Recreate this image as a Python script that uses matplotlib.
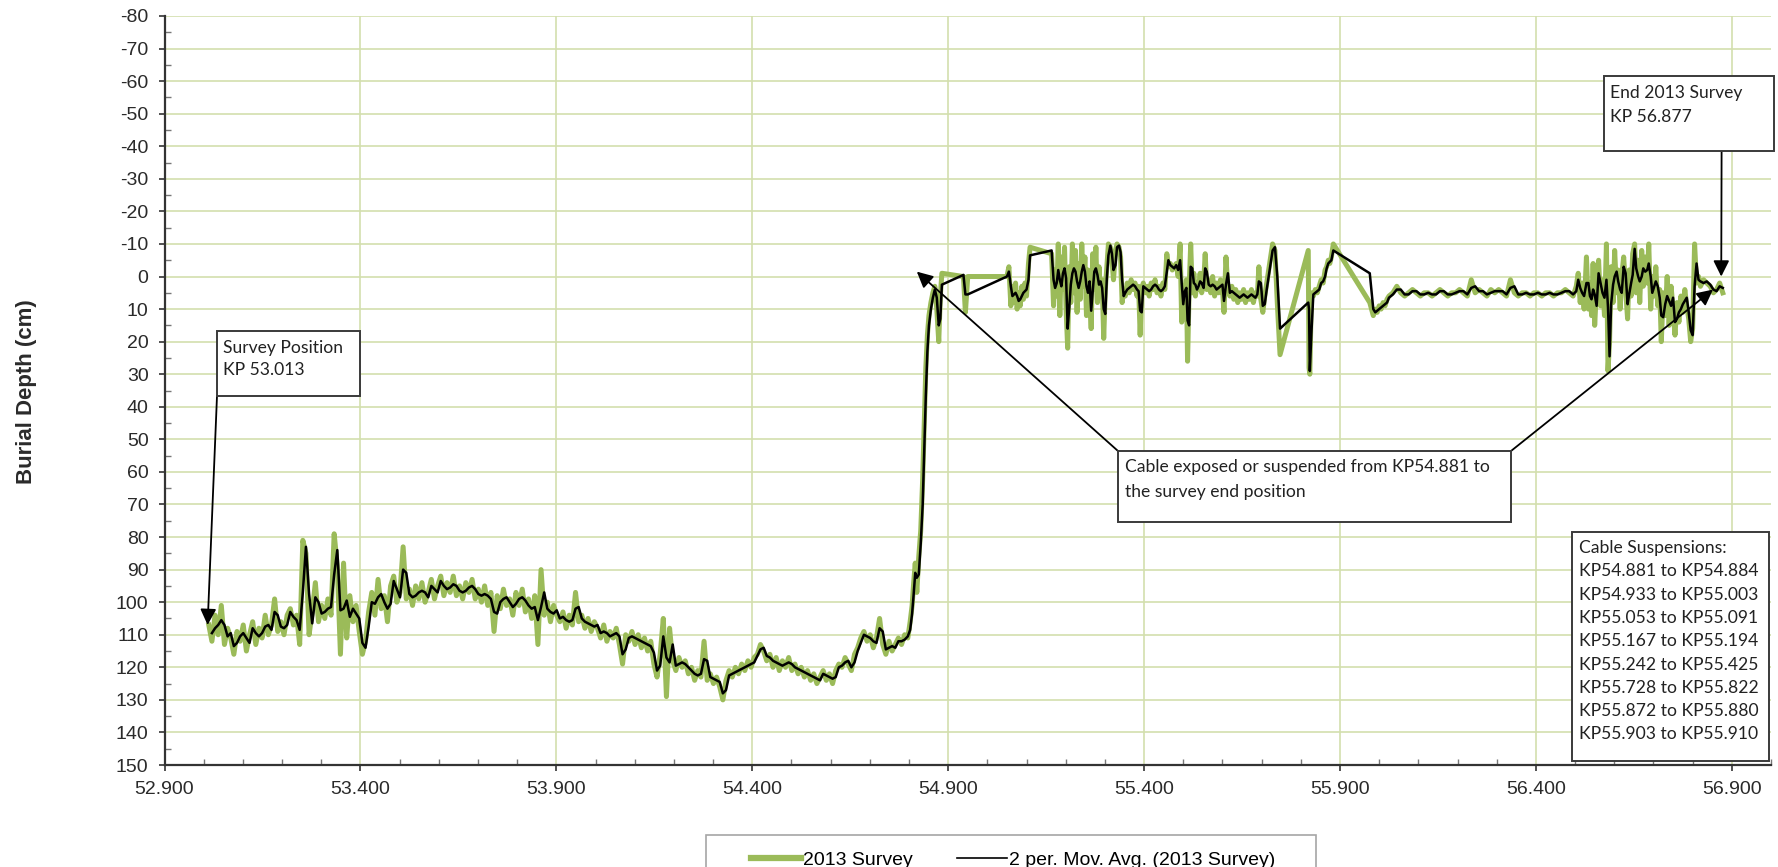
import numpy as np
import pandas as pd
import matplotlib
matplotlib.use('Agg')
import matplotlib.pyplot as plt
from matplotlib.patches import Rectangle
from matplotlib.lines import Line2D
from matplotlib.ticker import MultipleLocator, FixedLocator

plt.rcParams['axes.unicode_minus'] = False

# --- survey data (KP in km, burial depth in cm, negative = above seabed) ---
# evenly spaced readings: (first KP, last KP) and depths
seg1_kp = (53.013, 53.405)
seg1_depth = [107, 112, 104, 110, 101, 113, 108, 111, 116, 109,
              112, 107, 115, 110, 106, 113, 108, 111, 104, 110,
              107, 99, 109, 106, 110, 104, 102, 107, 104, 113,
              81, 85, 110, 103, 94, 106, 101, 105, 99, 104,
              79, 89, 116, 88, 111, 98, 106, 101, 109, 116]
seg2_kp = (53.413, 53.901)
seg2_depth = [112, 103, 97, 104, 93, 102, 98, 106, 95, 92,
              100, 97, 83, 99, 96, 101, 95, 99, 94, 100,
              97, 93, 99, 95, 92, 98, 94, 97, 92, 98,
              95, 99, 94, 97, 93, 99, 96, 100, 95, 101,
              97, 109, 98, 102, 96, 101, 99, 104, 97, 101,
              96, 103, 99, 105, 98, 113, 90, 104, 100, 106,
              101, 104]
seg3_kp = (53.909, 54.405)
seg3_depth = [106, 103, 108, 104, 107, 97, 106, 104, 108, 105,
              109, 106, 108, 111, 107, 112, 109, 111, 108, 113,
              119, 110, 112, 109, 113, 110, 114, 111, 115, 112,
              119, 123, 116, 105, 129, 108, 118, 121, 117, 120,
              118, 122, 120, 124, 121, 123, 112, 124, 122, 125,
              123, 126, 130, 124, 121, 123, 120, 122, 119, 121,
              118, 120, 117]
seg4_kp = (54.413, 54.797)
seg4_depth = [116, 113, 115, 118, 116, 120, 117, 121, 118, 120,
              117, 121, 119, 122, 120, 123, 121, 124, 122, 125,
              123, 121, 124, 122, 125, 121, 119, 120, 117, 119,
              121, 116, 114, 111, 109, 112, 110, 114, 111, 105,
              113, 116, 112, 115, 113, 111, 113, 110, 111]

# cable rising out of the seabed, first suspensions
rise_kp = [54.803, 54.808, 54.812, 54.816, 54.820, 54.825, 54.830, 54.835, 54.839, 54.843,
           54.847, 54.851, 54.856, 54.861, 54.866, 54.871, 54.876, 54.880, 54.884, 54.939,
           54.944, 54.950, 55.050]
rise_depth = [106, 101, 94, 88, 97, 86, 78, 62, 45, 28,
              18, 12, 8, 5, 3, 10, 20, 6, -1, 0,
              11, 0, 0]

# exposed section
exp_kp = [55.055, 55.060, 55.064, 55.068, 55.072, 55.076, 55.080, 55.084, 55.088, 55.092,
          55.096, 55.100, 55.105, 55.109, 55.164, 55.169, 55.173, 55.177, 55.181, 55.185,
          55.189, 55.193, 55.197, 55.201, 55.205, 55.209, 55.213, 55.217, 55.221, 55.225,
          55.229, 55.233, 55.237, 55.241, 55.245, 55.249, 55.253, 55.257, 55.261, 55.265,
          55.269, 55.273, 55.277, 55.281, 55.285, 55.289, 55.293, 55.297, 55.301, 55.305,
          55.309, 55.314, 55.318, 55.322, 55.327, 55.331, 55.336, 55.340, 55.344, 55.348,
          55.352, 55.357, 55.362, 55.367, 55.372, 55.377, 55.382, 55.386, 55.390, 55.394,
          55.398, 55.403, 55.408, 55.413, 55.418, 55.423, 55.428, 55.433, 55.438, 55.443,
          55.448, 55.453, 55.458, 55.462, 55.467, 55.472, 55.477, 55.482, 55.487, 55.492,
          55.496, 55.500, 55.504, 55.508, 55.511, 55.515, 55.519, 55.523, 55.527, 55.531,
          55.535, 55.539, 55.543, 55.547, 55.552, 55.556, 55.560, 55.565, 55.570, 55.575,
          55.580, 55.585, 55.590, 55.595, 55.600, 55.604, 55.609, 55.614, 55.619, 55.624,
          55.629, 55.634, 55.639, 55.644, 55.649, 55.654, 55.659, 55.664, 55.669, 55.674,
          55.679, 55.684, 55.689, 55.693, 55.698, 55.703, 55.708, 55.713, 55.718, 55.723,
          55.728, 55.734, 55.740, 55.747, 55.819, 55.821, 55.823, 55.827, 55.832, 55.837,
          55.842, 55.847, 55.852, 55.857, 55.862, 55.866, 55.870, 55.874, 55.878, 55.883,
          55.976, 55.985, 55.990, 55.995, 56.000, 56.005, 56.010, 56.015, 56.020]
exp_depth = [-3, 9, 3, 8, 2, 10, 5, 9, 3, 7,
             2, 6, -4, -9, -7, 9, -2, 6, -10, 12,
             -6, 4, -9, 10, 22, -3, 8, -10, 5, -8,
             11, -4, 7, -10, 3, -6, 12, -2, 5, 16,
             -7, 4, -9, 8, -3, 6, 1, 19, 4, -3,
             -10, -9, -5, 1, -8, -10, -9, -6, 8, 4,
             6, 2, 5, 1, 4, 2, 6, 3, 18, 4,
             2, 5, 3, 6, 2, 4, 1, 5, 3, 6,
             2, 4, -7, -3, -4, -2, -3, -4, 0, -10,
             14, 3, 6, 1, 26, 4, -10, 5, -1, 6,
             2, 4, -1, 5, 2, -7, 4, 1, 5, 0,
             6, 2, 5, 1, 4, 11, -6, 4, 6, 3,
             7, 4, 8, 5, 7, 4, 8, 5, 7, 4,
             8, 5, 6, -3, 7, 11, 6, 2, -2, -6,
             -10, -8, 8, 24, -8, 28, 30, 5, 6, 4,
             5, 3, 1, 2, -2, -3, -5, -4, -6, -10,
             8, 12, 10, 11, 9, 10, 8, 9, 7]

seg5_kp = (56.025, 56.495)
seg5_depth = [6, 5, 3, 5, 6, 5, 4, 5, 6, 5,
              5, 6, 5, 4, 5, 6, 5, 5, 4, 5,
              6, 1, 5, 4, 5, 6, 4, 5, 4, 5,
              6, 1, 5, 6, 5, 5, 6, 5, 5, 6,
              5, 5, 6, 5, 5, 4, 5, 6]

tail_kp = [56.503, 56.508, 56.513, 56.518, 56.523, 56.529, 56.534, 56.538, 56.542, 56.546,
           56.550, 56.555, 56.560, 56.565, 56.570, 56.575, 56.580, 56.584, 56.588, 56.592,
           56.597, 56.601, 56.606, 56.610, 56.615, 56.619, 56.624, 56.629, 56.634, 56.638,
           56.643, 56.647, 56.652, 56.656, 56.661, 56.665, 56.670, 56.674, 56.679, 56.684,
           56.688, 56.693, 56.697, 56.702, 56.706, 56.711, 56.716, 56.720, 56.725, 56.730,
           56.735, 56.740, 56.745, 56.750, 56.755, 56.760, 56.765, 56.770, 56.775, 56.780,
           56.785, 56.790, 56.795, 56.800, 56.805, 56.810, 56.815, 56.820, 56.828, 56.836,
           56.845, 56.853, 56.861, 56.869, 56.877]
tail_depth = [3, -1, 8, 2, 10, -6, 10, 2, 12, -4,
              15, 3, -5, 9, 1, 12, -10, 29, 20, -3,
              8, -8, 5, -2, 10, 0, -6, 4, 13, -2,
              6, -7, -10, 5, -5, 8, -8, 3, -6, 2,
              -10, 10, 0, 6, -3, 9, 4, 20, 5, 12,
              0, 15, 3, 10, 18, 8, 14, 6, 11, 4,
              9, 13, 20, 16, -10, 2, 0, 3, 1, 2,
              3, 5, 4, 2, 5]

x_ticks = [52.9, 53.4, 53.9, 54.4, 54.9, 55.4, 55.9, 56.4, 56.9]
suspensions = ["KP54.881 to KP54.884", "KP54.933 to KP55.003", "KP55.053 to KP55.091",
               "KP55.167 to KP55.194", "KP55.242 to KP55.425", "KP55.728 to KP55.822",
               "KP55.872 to KP55.880", "KP55.903 to KP55.910"]


def even(span, vals):
    return list(np.linspace(span[0], span[1], len(vals)))


kp = (even(seg1_kp, seg1_depth) + even(seg2_kp, seg2_depth) + even(seg3_kp, seg3_depth)
      + even(seg4_kp, seg4_depth) + rise_kp + exp_kp + even(seg5_kp, seg5_depth) + tail_kp)
depth = (seg1_depth + seg2_depth + seg3_depth + seg4_depth + rise_depth + exp_depth
         + seg5_depth + tail_depth)
survey = pd.Series(depth, index=kp)
mov_avg = survey.rolling(2).mean()

W, H = 1778, 867


def fxy(x, y):
    # pixel position (from top-left) -> figure fraction
    return x / W, 1 - y / H


GREEN = '#9bbb59'
GRID = '#d3dfae'
AX = '#333333'
tick_font = 'Liberation Sans'
note_font = 'Lato'

fig = plt.figure(figsize=(W / 100, H / 100), dpi=100)
left, right, bottom, top = 164.5, 1771, 765, 16
ax = fig.add_axes([left / W, 1 - bottom / H, (right - left) / W, (bottom - top) / H])

ax.plot(survey.index, survey.values, color=GREEN, lw=3.6, solid_joinstyle='round', zorder=3)
ax.plot(mov_avg.index, mov_avg.values, color='black', lw=1.8, zorder=4)

ax.set_xlim(52.9, 57.0)
ax.set_ylim(150, -80)
ax.xaxis.set_major_locator(FixedLocator(x_ticks))
ax.set_xticklabels(['%.3f' % t for t in x_ticks])
ax.xaxis.set_minor_locator(MultipleLocator(0.1))
ax.set_yticks(range(-80, 151, 10))
ax.yaxis.set_minor_locator(MultipleLocator(5))
ax.grid(True, which='major', color=GRID, lw=1.2, zorder=0)
ax.set_axisbelow(True)

for s in ['top', 'right']:
    ax.spines[s].set_visible(False)
for s in ['left', 'bottom']:
    ax.spines[s].set_color(AX)
    ax.spines[s].set_linewidth(1.6)
ax.tick_params(which='major', direction='out', length=4.5, width=1.2, color=AX,
               labelsize=14, labelcolor='#2a2a2a')
ax.tick_params(axis='y', which='major', pad=7)
ax.tick_params(axis='x', which='major', pad=7)
ax.tick_params(which='minor', direction='in', length=4, width=1, color='#777777')
for lab in ax.get_xticklabels() + ax.get_yticklabels():
    lab.set_fontfamily(tick_font)

fig.text(*fxy(27, 392), 'Burial Depth (cm)', rotation=90, ha='center', va='center',
         fontsize=16, fontweight='bold', family=tick_font, color='#2a2a2a')


def box(x0, y0, x1, y1, lines, tx, ty0, step, ec='#3a3a3a'):
    fig.add_artist(Rectangle(fxy(x0, y1), (x1 - x0) / W, (y1 - y0) / H,
                             transform=fig.transFigure, facecolor='white',
                             edgecolor=ec, lw=1.4, zorder=5))
    for i, t in enumerate(lines):
        fig.text(*fxy(tx, ty0 + i * step), t, ha='left', va='center', fontsize=12.6,
                 family=note_font, color='#222222', zorder=6)


def arrow(px, py, tip):
    ax.annotate('', xy=tip, xycoords='data', xytext=fxy(px, py),
                textcoords='figure fraction', annotation_clip=False,
                arrowprops=dict(arrowstyle='-|>,head_length=0.6,head_width=0.3',
                                mutation_scale=16, color='black', lw=1.3,
                                shrinkA=0, shrinkB=0), zorder=7)


arrow(217, 396, (53.010, 107))
arrow(1721.6, 151, (56.873, 0))
arrow(1118, 451, (54.82, -1.5))
arrow(1511, 451, (56.852, 4))

box(217, 331, 360, 396, ['Survey Position', 'KP 53.013'], 223, 348, 22)
box(1604, 76, 1774, 151, ['End 2013 Survey', 'KP 56.877'], 1610, 93, 24)
box(1118, 451, 1511, 522, ['Cable exposed or suspended from KP54.881 to',
                           'the survey end position'], 1125, 467, 25)
box(1572, 532, 1769, 761, ['Cable Suspensions:'] + suspensions, 1579, 548, 23.3)

# legend
fig.add_artist(Rectangle(fxy(706, 900), 610 / W, 65 / H, transform=fig.transFigure,
                         facecolor='white', edgecolor='#a6a6a6', lw=1.2, zorder=5))
handles = [Line2D([], [], color=GREEN, lw=4.5), Line2D([], [], color='black', lw=1.2)]
leg = fig.legend(handles, ['2013 Survey', '2 per. Mov. Avg. (2013 Survey)'],
                 loc='center left', bbox_to_anchor=fxy(751, 860), ncol=2, frameon=False,
                 borderpad=0, borderaxespad=0, handlelength=2.58, handletextpad=0.1,
                 columnspacing=2.27, prop={'family': tick_font, 'size': 14})
leg.set_zorder(6)

fig.savefig('out.png', dpi=100)
plt.close('all')
